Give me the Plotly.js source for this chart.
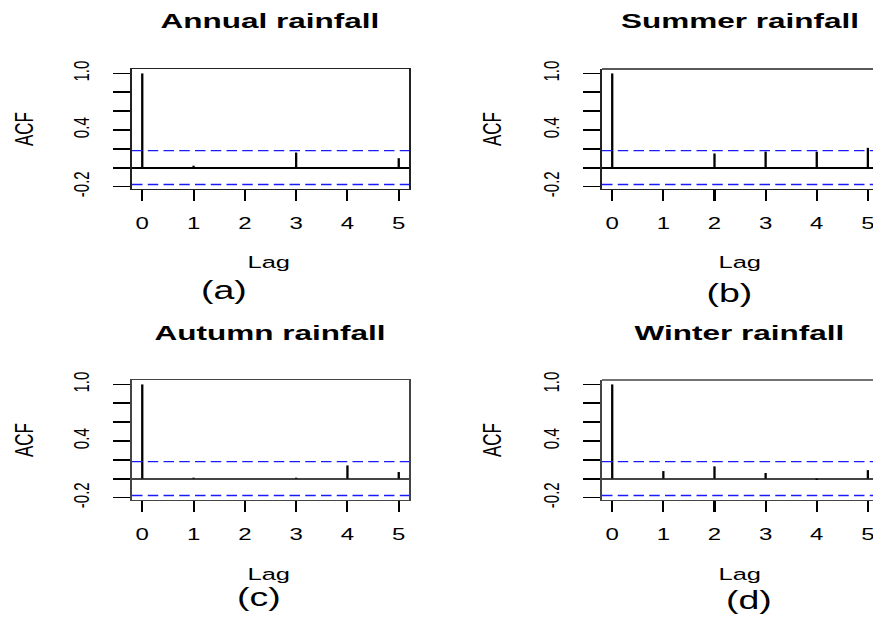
<!DOCTYPE html>
<html>
<head>
<meta charset="utf-8">
<script src="https://cdn.plot.ly/plotly-3.0.1.min.js"></script>
<style>
html,body{margin:0;padding:0;background:#fff;overflow:hidden;}
#wrap{width:873px;height:617px;overflow:hidden;}
/* the reference figure is horizontally stretched by 1.5; reproduce that stretch */
#chart{width:582px;height:617px;transform:scaleX(1.5);transform-origin:0 0;}
</style>
</head>
<body>
<div id="wrap"><div id="chart"></div></div>
<script>
// ---- data ----
const lags = [0, 1, 2, 3, 4, 5];
const annualACF = [1, 0.02, -0.01, 0.16, 0.0, 0.10];
const summerACF = [1, 0.005, 0.15, 0.17, 0.17, 0.21];
const autumnACF = [1, 0.01, 0.0, 0.01, 0.14, 0.07];
const winterACF = [1, 0.08, 0.13, 0.06, -0.015, 0.09];
const confLimit = 0.18;
const panelTitles = ["Annual rainfall", "Summer rainfall", "Autumn rainfall", "Winter rainfall"];
const panelLabels = ["(a)", "(b)", "(c)", "(d)"];
const yTickVals = [-0.2, 0, 0.2, 0.4, 0.6, 0.8, 1.0];
const yTickText = ["-0.2", "", "", "0.4", "", "", "1.0"];

// positions are given in the final (873 x 617) picture's pixels; paper fractions are unaffected by the stretch
const W = 873, H = 617;
const px = v => v / W, py = v => 1 - v / H;

const series = [annualACF, summerACF, autumnACF, winterACF];
const panels = [
  {x0: 132, x1: 409, y0: 69, y1: 189, xr: [-0.2, 5.2], full: true, cx: 270, acfX: 24, lbl: [225, 290], lc: "#222", zc: "#000"},
  {x0: 602, x1: 873, y0: 69, y1: 189, xr: [-0.2, 5.1], full: false, cx: 740, acfX: 492, lbl: [729, 293], lc: "#222", zc: "#000"},
  {x0: 132, x1: 409, y0: 380, y1: 500, xr: [-0.2, 5.2], full: true, cx: 270, acfX: 24, lbl: [258, 597], lc: "#444", zc: "#444"},
  {x0: 602, x1: 873, y0: 380, y1: 500, xr: [-0.2, 5.1], full: false, cx: 740, acfX: 492, lbl: [749, 600], lc: "#444", zc: "#444"}
];

const FONT = "Liberation Sans, Arial, sans-serif";
const traces = [];
const shapes = [];
const annotations = [];
const layout = {
  width: 582, height: 617,
  margin: {l: 0, r: 0, t: 0, b: 0},
  paper_bgcolor: "#fff", plot_bgcolor: "#fff",
  showlegend: false,
  shapes: shapes, annotations: annotations
};

panels.forEach((p, i) => {
  const n = i + 1;
  const xa = n === 1 ? "x" : "x" + n;
  const ya = n === 1 ? "y" : "y" + n;
  traces.push({
    type: "bar", x: lags, y: series[i], width: 0.045,
    marker: {color: "#000", line: {width: 0}},
    xaxis: xa, yaxis: ya, hoverinfo: "x+y"
  });
  layout["xaxis" + (n === 1 ? "" : n)] = {
    domain: [px(p.x0), px(p.x1)], anchor: ya, range: p.xr,
    tickvals: lags, ticktext: lags.map(String),
    ticks: "outside", ticklen: 11, tickwidth: 1.4, tickcolor: "#000",
    ticklabelstandoff: 8, ticklabeloverflow: "allow",
    showline: true, linecolor: p.lc, linewidth: 1.4, mirror: p.full,
    showgrid: false, zeroline: false,
    tickfont: {family: FONT, size: 16, color: "#000"}, fixedrange: true
  };
  layout["yaxis" + (n === 1 ? "" : n)] = {
    domain: [py(p.y1), py(p.y0)], anchor: xa, range: [-0.227, 1.047],
    tickvals: yTickVals, ticktext: yTickText, tickangle: -90,
    ticks: "outside", ticklen: 11, tickwidth: 1.8, tickcolor: "#000",
    ticklabelstandoff: 10, ticklabeloverflow: "allow",
    showline: true, linecolor: p.lc, linewidth: 1.4, mirror: p.full,
    showgrid: false, zeroline: true, zerolinecolor: p.zc, zerolinewidth: 2,
    tickfont: {family: FONT, size: 15, color: "#000"}, fixedrange: true
  };
  [confLimit, -confLimit].forEach(c => {
    shapes.push({type: "line", xref: xa + " domain", yref: ya, x0: 0, x1: 1, y0: c, y1: c,
      line: {color: "#1a1aff", width: 1.4, dash: "7px,3.5px"}});
  });
  if (!p.full) {
    shapes.push({type: "line", xref: xa + " domain", yref: ya + " domain", x0: 0, x1: 1, y0: 1, y1: 1,
      line: {color: p.lc, width: 1.6}});
  }
  annotations.push({text: panelTitles[i], x: px(p.cx), y: py(p.y0 - 48), xref: "paper", yref: "paper",
    xanchor: "center", yanchor: "middle", showarrow: false,
    font: {family: FONT, size: 21, weight: "bold", color: "#000"}});
  annotations.push({text: "ACF", x: px(p.acfX), y: py((p.y0 + p.y1) / 2), xref: "paper", yref: "paper",
    xanchor: "center", yanchor: "middle", showarrow: false, textangle: -90,
    font: {family: FONT, size: 17, color: "#000"}});
  annotations.push({text: "Lag", x: px(p.cx - 1), y: py(p.y1 + 74), xref: "paper", yref: "paper",
    xanchor: "center", yanchor: "middle", showarrow: false,
    font: {family: FONT, size: 17, color: "#000"}});
  annotations.push({text: panelLabels[i], x: px(p.lbl[0]), y: py(p.lbl[1]), xref: "paper", yref: "paper",
    xanchor: "center", yanchor: "middle", showarrow: false,
    font: {family: FONT, size: 25, color: "#000"}});
});

Plotly.newPlot("chart", traces, layout, {displayModeBar: false, staticPlot: true});
</script>
</body>
</html>
